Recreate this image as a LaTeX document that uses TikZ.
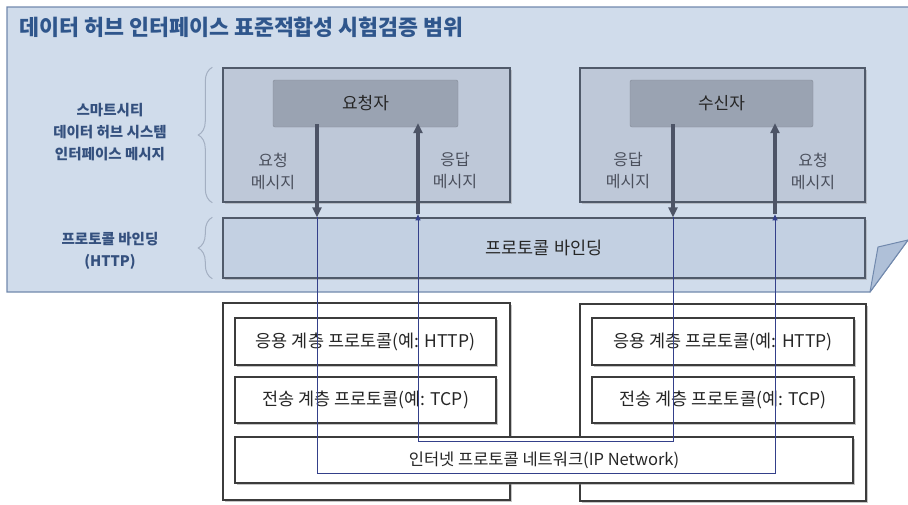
\documentclass[tikz,border=0pt]{standalone}
\usepackage{fontspec}
\setmainfont{Noto Sans CJK KR}
\usetikzlibrary{arrows.meta,shadows,decorations.pathreplacing,calc}

\definecolor{panelfill}{HTML}{D0DCEB}
\definecolor{panelline}{HTML}{7189AD}
\definecolor{foldfill}{HTML}{AFC0D8}
\definecolor{boxfill}{HTML}{BEC8D8}
\definecolor{innerfill}{HTML}{9AA3B2}
\definecolor{bindfill}{HTML}{C3D0E2}
\definecolor{boxline}{HTML}{505A6A}
\definecolor{thickarrow}{HTML}{4D5466}
\definecolor{thinline}{HTML}{34408A}
\definecolor{titleblue}{HTML}{2F568C}
\definecolor{labelblue}{HTML}{34507E}
\definecolor{msggray}{HTML}{4A4F5C}
\definecolor{bracegray}{HTML}{A3AFC2}
\definecolor{stackline}{HTML}{3C3C3C}

\begin{document}
\begin{tikzpicture}[x=1pt,y=-1pt,
  bigbox/.style={draw=boxline, line width=1.4pt, fill=boxfill, inner sep=0pt,
    drop shadow={shadow xshift=2pt, shadow yshift=-2pt, opacity=0.35}},
  innerbox/.style={fill=innerfill, rounded corners=2pt, inner sep=0pt,
    draw=innerfill!85!black, line width=0.4pt,
    font=\fontsize{17}{20}\selectfont, text=black!85},
  bindbox/.style={draw=boxline, line width=1.4pt, fill=bindfill, inner sep=0pt,
    font=\fontsize{17.5}{20}\selectfont, text=black!85,
    drop shadow={shadow xshift=2pt, shadow yshift=-2pt, opacity=0.35}},
  stackbox/.style={draw=stackline, line width=1.2pt, fill=white, inner sep=0pt,
    drop shadow={shadow xshift=2pt, shadow yshift=-2pt, opacity=0.45}},
  layerbox/.style={stackbox, font=\fontsize{17.5}{20}\selectfont, text=black!85},
  msglabel/.style={align=center, text=msggray, font=\fontsize{16}{22}\selectfont},
  sidelabel/.style={align=center, text=labelblue, font=\bfseries\fontsize{14.5}{22}\selectfont},
  thickarr/.style={draw=thickarrow, line width=3.4pt, -{Triangle[length=10pt,width=9pt]}},
  thinarr/.style={draw=thinline, line width=0.9pt},
  sidebrace/.style={draw=bracegray, line width=1pt,
    decorate, decoration={brace, amplitude=14pt}}
]
\useasboundingbox (0,0) rectangle (908,504);

% light-blue scope panel with folded corner
\fill[panelfill] (7,7) -- (908,7) -- (908,240) -- (870,292) -- (7,292) -- cycle;
\draw[panelline, line width=1.2pt] (908,7) -- (7,7) -- (7,292) -- (870,292) -- (908,240);
\filldraw[fill=foldfill, draw=panelline, line width=1pt, line join=round]
  (870,292) -- (878,247) -- (908,240) -- cycle;

% title
\node[anchor=west, text=titleblue, font=\bfseries\fontsize{21.7}{26}\selectfont]
  (title) at (16,27) {데이터 허브 인터페이스 표준적합성 시험검증 범위};

% requester and receiver
\node[bigbox, minimum width=287pt, minimum height=134pt] (req) at (366.5,135) {};
\node[innerbox, minimum width=185pt, minimum height=47pt] (reqin) at (365.5,103.5) {요청자};
\node[bigbox, minimum width=285pt, minimum height=134pt] (rec) at (722.5,135) {};
\node[innerbox, minimum width=183pt, minimum height=47pt] (recin) at (721.5,103.5) {수신자};

\node[msglabel] (reqmsgL) at (273,171) {요청\\메시지};
\node[msglabel] (resmsgL) at (455,171) {응답\\메시지};
\node[msglabel] (resmsgR) at (628,171) {응답\\메시지};
\node[msglabel] (reqmsgR) at (813,171) {요청\\메시지};

% protocol binding
\node[bindbox, minimum width=642pt, minimum height=60pt] (bind) at (544,248) {프로토콜 바인딩};

% side braces and labels
\draw[sidebrace] ([xshift=-10pt]req.south west) -- ([xshift=-10pt]req.north west);
\draw[sidebrace] ([xshift=-10pt]bind.south west) -- ([xshift=-10pt]bind.north west);
\node[sidelabel] (msglabel) at (110,132) {스마트시티\\데이터 허브 시스템\\인터페이스 메시지};
\node[sidelabel] (bindlabel) at (110,251) {프로토콜 바인딩\\(HTTP)};

% lanes of the message paths
\coordinate (xa) at (317,0);
\coordinate (xb) at (418,0);
\coordinate (xc) at (673,0);
\coordinate (xd) at (775,0);
\coordinate (ya) at (0,473);
\coordinate (yb) at (0,441);

% thick message arrows
\draw[thickarr] ([yshift=3pt]reqin.south -| xa) -- (bind.north -| xa);
\draw[thickarr] ([yshift=3pt]bind.north -| xb) -- ([yshift=4pt]reqin.south -| xb);
\draw[thickarr] ([yshift=3pt]recin.south -| xc) -- (bind.north -| xc);
\draw[thickarr] ([yshift=3pt]bind.north -| xd) -- ([yshift=4pt]recin.south -| xd);

% protocol stacks
\node[stackbox, minimum width=287pt, minimum height=197pt] (stackL) at (366.5,401.5) {};
\node[stackbox, minimum width=286pt, minimum height=197pt] (stackR) at (723,402.5) {};
\node[layerbox, minimum width=261pt, minimum height=47pt] (appL) at (365.5,341.5) {응용 계층 프로토콜(예: HTTP)};
\node[layerbox, minimum width=261pt, minimum height=46pt] (trL) at (365.5,400) {전송 계층 프로토콜(예: TCP)};
\node[layerbox, minimum width=262pt, minimum height=47pt] (appR) at (723,341.5) {응용 계층 프로토콜(예: HTTP)};
\node[layerbox, minimum width=262pt, minimum height=46pt] (trR) at (723,400) {전송 계층 프로토콜(예: TCP)};
\node[layerbox, font=\fontsize{16.5}{20}\selectfont, minimum width=618pt, minimum height=46pt] (ip) at (544,460) {인터넷 프로토콜 네트워크(IP Network)};

% thin paths through the network
\draw[thinarr, -{Triangle[length=6pt,width=5pt]}]
  (bind.north -| xa) -- (xa |- ya) -- (xd |- ya) -- ([yshift=3pt]bind.north -| xd);
\draw[thinarr, -{Triangle[length=6pt,width=5pt]}]
  (bind.north -| xc) -- (xc |- yb) -- (xb |- yb) -- ([yshift=3pt]bind.north -| xb);
\end{tikzpicture}
\end{document}
